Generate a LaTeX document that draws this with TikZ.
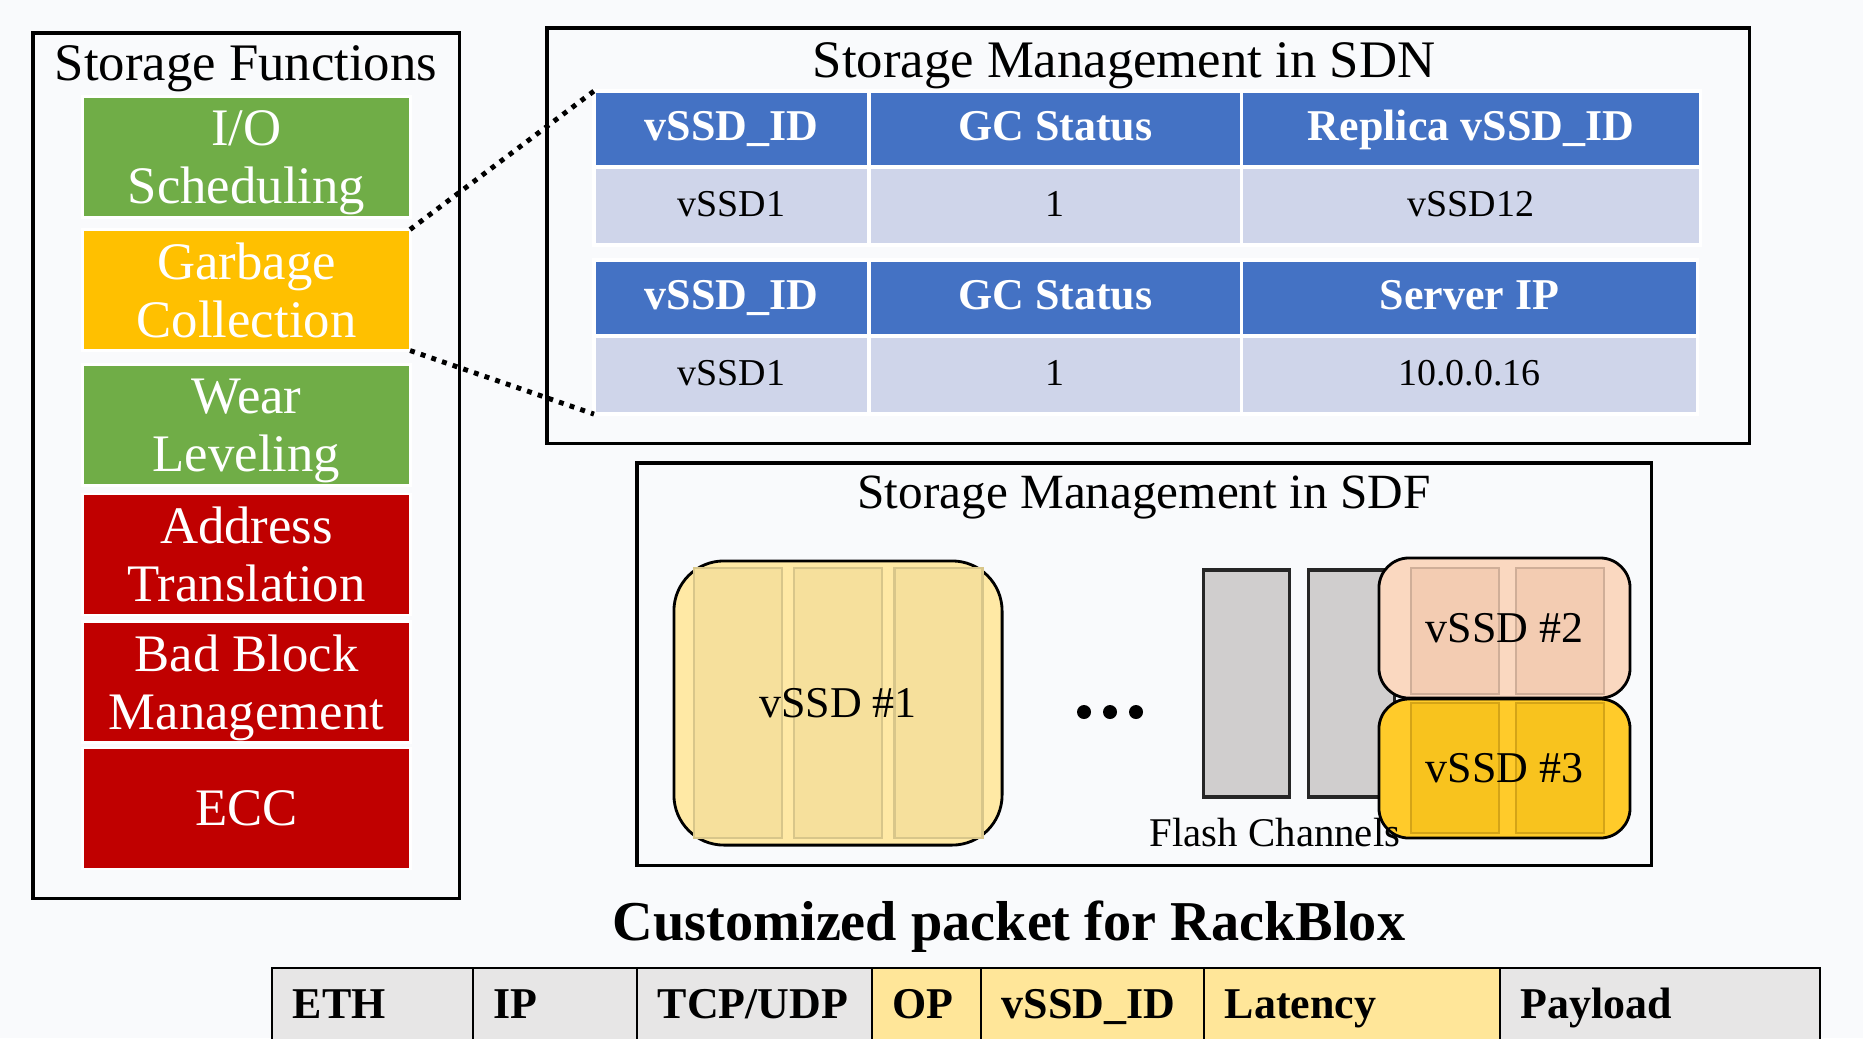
\documentclass[tikz,border=0pt]{standalone}
\usepackage{fontspec}
\setmainfont{Liberation Serif}
\usetikzlibrary{positioning}

\definecolor{bgcol}{HTML}{F9FAFC}
\definecolor{fgreen}{HTML}{70AD47}
\definecolor{fyellow}{HTML}{FFC000}
\definecolor{fred}{HTML}{C00000}
\definecolor{hdrblue}{HTML}{4472C4}
\definecolor{cellblue}{HTML}{CFD5EA}
\definecolor{chgray}{HTML}{D0CECE}
\definecolor{vsone}{HTML}{FFE9A5}
\definecolor{vsonestrip}{HTML}{F6E09C}
\definecolor{vsoneline}{HTML}{D8C68A}
\definecolor{vstwo}{HTML}{FAD8C0}
\definecolor{vstwostrip}{HTML}{F3CCB2}
\definecolor{vstwoline}{HTML}{CFAE98}
\definecolor{vsthree}{HTML}{FFCB2A}
\definecolor{vsthreestrip}{HTML}{F8C31E}
\definecolor{vsthreeline}{HTML}{D4A417}
\definecolor{pktgray}{HTML}{E7E6E6}
\definecolor{pktyellow}{HTML}{FFE699}

\tikzset{
    frame/.style = {
        draw, rectangle, line width=0.9pt,
        outer sep=0, inner sep=0
    },
    func/.style = {
        draw=white, rectangle, align=center, text=white,
        line width=0.8pt, outer sep=0, inner sep=0,
        minimum width=3.27cm, minimum height=1.21cm, text depth=0pt,
        font=\fontsize{15}{16.5}\selectfont
    },
    hdr/.style = {
        draw=white, fill=hdrblue, rectangle, text=white,
        line width=1pt, outer sep=0, inner sep=0,
        minimum height=0.76cm, text height=6.5pt, text depth=0pt,
        font=\fontsize{12.5}{14}\selectfont\bfseries
    },
    cell/.style = {
        draw=white, fill=cellblue, rectangle,
        line width=1pt, outer sep=0, inner sep=0,
        minimum height=0.78cm, text height=6pt, text depth=0pt,
        font=\fontsize{10.8}{13}\selectfont
    },
    vssd/.style = {
        draw, rectangle, rounded corners=0.3cm, line width=0.8pt,
        outer sep=0, inner sep=0
    },
    strip/.style = {
        rectangle, line width=0.6pt, outer sep=0, inner sep=0,
        minimum width=0.88cm
    },
    chan/.style = {
        draw=black!85, fill=chgray, rectangle, line width=1.1pt,
        outer sep=0, inner sep=0,
        minimum width=0.86cm, minimum height=2.27cm
    },
    vlabel/.style = {font=\fontsize{12.5}{14}\selectfont},
    field/.style = {
        draw, rectangle, line width=0.8pt, anchor=north west,
        outer sep=0, inner sep=0, minimum height=1cm
    },
    fieldtext/.style = {
        anchor=base west, inner sep=0,
        font=\fontsize{12.5}{14}\selectfont\bfseries
    },
    link/.style = {line width=1.4pt, dash pattern=on 1.4pt off 1.8pt},
    dotn/.style = {circle, fill, inner sep=0, minimum size=0.14cm}
}

\begin{document}
\begin{tikzpicture}[x=0.01cm,y=-0.01cm]
\useasboundingbox (0,0) rectangle (1863,1038);
\clip (0,0) rectangle (1863,1038);
\fill[bgcol] (0,0) rectangle (1863,1038);

% 1. storage functions
\node[frame, anchor=north west, minimum width=4.26cm, minimum height=8.65cm] (funcs) at (33,33) {};
\node[anchor=base, font=\fontsize{15}{16.5}\selectfont] (functitle) at (246,80) {Storage Functions};
\foreach \n/\y/\c/\t in {io/157/fgreen/{I/O\\Scheduling}, gc/290/fyellow/{Garbage\\Collection},
    wl/425/fgreen/{Wear\\Leveling}, at/554.5/fred/{Address\\Translation},
    bb/682/fred/{Bad Block\\Management}, ecc/808.5/fred/ECC}
  \node[func, fill=\c] (\n) at (246.5,\y) {\t};

% 2. tables in SDN
\node[frame, anchor=north west, minimum width=12.02cm, minimum height=4.15cm] (sdn) at (547,28) {};
\node[anchor=base, font=\fontsize{15}{16.5}\selectfont] (sdntitle) at (1124,77) {Storage Management in SDN};

\node[hdr, minimum width=2.75cm, anchor=north west] (h11) at (594,91) {vSSD\_ID};
\node[hdr, minimum width=3.72cm, right=0pt of h11] (h12) {GC Status};
\node[hdr, minimum width=4.59cm, right=0pt of h12] (h13) {Replica vSSD\_ID};
\node[cell, minimum width=2.75cm, below=0pt of h11] (d11) {vSSD1};
\node[cell, minimum width=3.72cm, below=0pt of h12] (d12) {1};
\node[cell, minimum width=4.59cm, below=0pt of h13] (d13) {vSSD12};

\node[hdr, minimum width=2.75cm, anchor=north west] (h21) at (594,260) {vSSD\_ID};
\node[hdr, minimum width=3.72cm, right=0pt of h21] (h22) {GC Status};
\node[hdr, minimum width=4.56cm, right=0pt of h22] (h23) {Server IP};
\node[cell, minimum width=2.75cm, below=0pt of h21] (d21) {vSSD1};
\node[cell, minimum width=3.72cm, below=0pt of h22] (d22) {1};
\node[cell, minimum width=4.56cm, below=0pt of h23] (d23) {10.0.0.16};

\draw[link] (gc.north east) -- (h11.north west);
\draw[link] (gc.south east) -- (d21.south west);

% 3. vSSDs in SDF
\node[frame, anchor=north west, minimum width=10.14cm, minimum height=4.02cm] (sdf) at (637,463) {};
\node[anchor=base, font=\fontsize{14}{16}\selectfont] (sdftitle) at (1144,508) {Storage Management in SDF};

\node[chan] (ch1) at (1246.5,683.5) {};
\node[chan] (ch2) at (1351.5,683.5) {};

\node[vssd, fill=vsone, rounded corners=0.5cm, minimum width=3.28cm, minimum height=2.84cm] (v1) at (838,703) {};
\foreach \x [count=\i] in {738,838,938.5}
  \node[strip, fill=vsonestrip, draw=vsoneline, minimum height=2.7cm] (sa\i) at (\x,703) {};
\node[vlabel] (v1txt) at (v1) {vSSD \#1};

\node[vssd, fill=vstwo, minimum width=2.51cm, minimum height=1.40cm] (v2) at (1504.5,628) {};
\node[vssd, fill=vsthree, minimum width=2.51cm, minimum height=1.39cm] (v3) at (1504.5,768.5) {};
\foreach \x [count=\i] in {1455,1560} {
  \node[strip, fill=vstwostrip, draw=vstwoline, minimum height=1.26cm] (sb\i) at (\x,631) {};
  \node[strip, fill=vsthreestrip, draw=vsthreeline, minimum height=1.30cm] (sc\i) at (\x,768) {};
}
\node[vlabel] (v2txt) at (v2) {vSSD \#2};
\node[vlabel] (v3txt) at (v3) {vSSD \#3};

\foreach \x [count=\i] in {1084,1110,1136}
  \node[dotn] (dot\i) at (\x,712) {};
\node[anchor=base, font=\fontsize{11.6}{13}\selectfont] (fch) at (1275,846) {Flash Channels};

% 4. packet format
\node[anchor=base, font=\fontsize{16}{18}\selectfont\bfseries] (pkt) at (1009,940) {Customized packet for RackBlox};
\foreach \x/\w/\c/\t [count=\i] in {272/201/pktgray/ETH, 473/164/pktgray/IP,
    637/235/pktgray/{TCP/UDP}, 872/109/pktyellow/OP, 981/223/pktyellow/vSSD\_ID,
    1204/296/pktyellow/Latency, 1500/320/pktgray/Payload} {
  \node[field, fill=\c, minimum width=\w*0.01cm] (f\i) at (\x,968) {};
  \node[fieldtext] (t\i) at ([xshift=0.2cm,yshift=-0.5cm]f\i.north west) {\t};
}

\end{tikzpicture}
\end{document}
